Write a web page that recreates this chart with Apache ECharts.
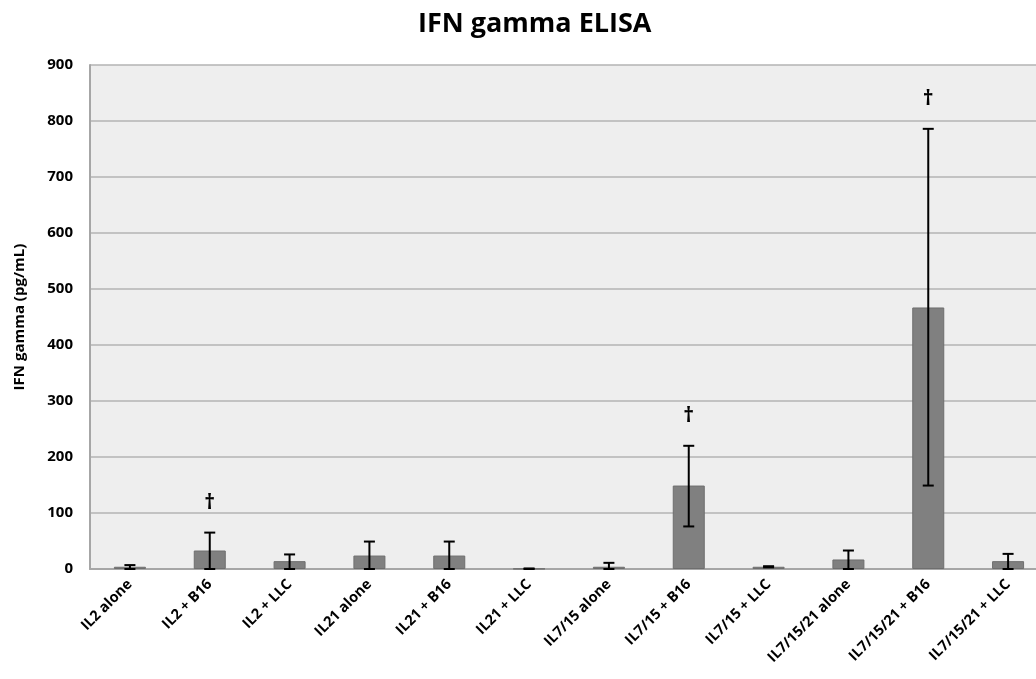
<!DOCTYPE html>
<html>
<head>
<meta charset="utf-8">
<script src="https://cdn.jsdelivr.net/npm/echarts@6/dist/echarts.min.js"></script>
<style>html,body{margin:0;padding:0;background:#fff;}#c{width:1036px;height:679px;}</style>
</head>
<body>
<div id="c"></div>
<script>
var categories = ['IL2 alone','IL2 + B16','IL2 + LLC','IL21 alone','IL21 + B16','IL21 + LLC','IL7/15 alone','IL7/15 + B16','IL7/15 + LLC','IL7/15/21 alone','IL7/15/21 + B16','IL7/15/21 + LLC'];
var means = [4, 33, 14, 24, 24, 0.5, 4, 149, 4, 17, 467, 14];
var errLow = [0, 0, 0, 0, 0, 0, 0, 76, 3, 0, 149, 0];
var errHigh = [7, 65, 26, 49, 49, 1, 11, 220, 5, 33, 786, 27];
var daggers = ['', '†', '', '', '', '', '', '†', '', '', '†', ''];
var yTicks = [0, 100, 200, 300, 400, 500, 600, 700, 800, 900];

var font = 'Open Sans';
var errData = categories.map(function (c, i) { return [i, errLow[i], errHigh[i], daggers[i]]; });

var chart = echarts.init(document.getElementById('c'));
chart.setOption({
  backgroundColor: '#ffffff',
  animation: false,
  title: {
    text: 'IFN gamma ELISA',
    left: 413,
    top: 6,
    textStyle: { fontFamily: font, fontWeight: 'bold', fontSize: 27, color: '#000' }
  },
  grid: {
    left: 90, top: 65, width: 958, bottom: 110,
    containLabel: false, outerBoundsMode: 'none',
    show: true, backgroundColor: '#eeeeee', borderWidth: 0
  },
  xAxis: {
    type: 'category',
    data: categories,
    axisLine: { show: true, lineStyle: { color: '#a6a6a6', width: 2 } },
    axisTick: { show: false },
    axisLabel: {
      rotate: 45, interval: 0, margin: 13, hideOverlap: false,
      fontFamily: font, fontWeight: 'bold', fontSize: 14.5, color: '#000'
    }
  },
  yAxis: {
    type: 'value',
    min: 0, max: 900, interval: 100,
    name: 'IFN gamma (pg/mL)',
    nameLocation: 'middle',
    nameGap: 63,
    nameTextStyle: { fontFamily: font, fontWeight: 'bold', fontSize: 15, color: '#000' },
    axisLine: { show: true, lineStyle: { color: '#a6a6a6', width: 2 } },
    axisTick: { show: false },
    splitLine: { show: true, lineStyle: { color: '#b3b3b3', width: 1.5 } },
    axisLabel: {
      margin: 17, fontFamily: font, fontWeight: 'bold', fontSize: 15, color: '#000',
      formatter: function (v) { return yTicks.indexOf(v) >= 0 ? String(v) : ''; }
    }
  },
  series: [
    {
      type: 'bar',
      data: means,
      barWidth: 32,
      itemStyle: { color: '#808080', borderColor: '#6e6e6e', borderWidth: 1 }
    },
    {
      type: 'custom',
      data: errData,
      z: 10,
      renderItem: function (params, api) {
        var x = api.value(0);
        var lo = api.coord([x, api.value(1)]);
        var hi = api.coord([x, api.value(2)]);
        var d = daggers[params.dataIndex];
        var cap = 5.5;
        var style = { stroke: '#000', lineWidth: 2 };
        var children = [
          { type: 'line', shape: { x1: hi[0], y1: hi[1], x2: lo[0], y2: lo[1] }, style: style },
          { type: 'line', shape: { x1: hi[0] - cap, y1: hi[1], x2: hi[0] + cap, y2: hi[1] }, style: style },
          { type: 'line', shape: { x1: lo[0] - cap, y1: lo[1], x2: lo[0] + cap, y2: lo[1] }, style: style }
        ];
        if (d) {
          children.push({
            type: 'text',
            style: {
              text: d, x: hi[0], y: hi[1] - 30,
              align: 'center', verticalAlign: 'middle',
              fontFamily: font, fontWeight: 'bold', fontSize: 21, fill: '#000'
            }
          });
        }
        return { type: 'group', children: children };
      }
    }
  ]
});
</script>
</body>
</html>
